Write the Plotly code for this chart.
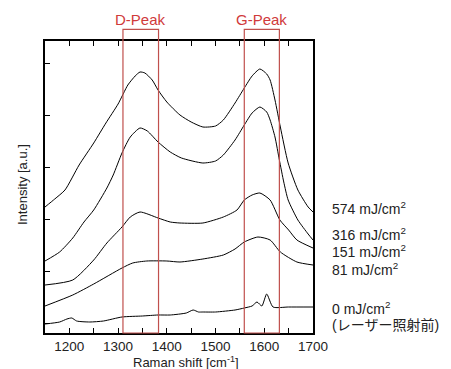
import plotly.graph_objects as go

# Raman shift positions (cm^-1) and intensities (arbitrary units)
x_574 = [1150, 1170, 1191, 1220, 1250, 1275, 1300, 1320, 1335, 1345, 1355, 1370, 1382, 1400, 1427, 1450, 1474, 1500, 1516, 1540, 1559, 1575, 1591, 1605, 1612, 1622, 1633, 1649, 1669, 1690, 1700]
y_574 = [126, 134, 143, 168, 190, 210, 229, 248, 257, 261, 260, 253, 243, 231, 218, 211, 206, 207, 213, 230, 245, 257, 264, 259, 253, 233, 206, 170, 143, 126, 121]

x_316 = [1150, 1180, 1207, 1230, 1250, 1277, 1290, 1308, 1325, 1345, 1360, 1382, 1407, 1430, 1474, 1500, 1516, 1540, 1559, 1575, 1591, 1605, 1612, 1622, 1631, 1640, 1649, 1669, 1690, 1700]
y_316 = [72, 81, 95, 111, 123, 145, 158, 180, 196, 205, 202, 191, 181, 175, 170, 172, 178, 193, 208, 220, 226, 221, 213, 196, 173, 151, 133, 113, 99, 93]

x_151 = [1150, 1207, 1250, 1277, 1308, 1325, 1345, 1382, 1407, 1427, 1474, 1516, 1544, 1559, 1575, 1591, 1612, 1632, 1650, 1667, 1700]
y_151 = [48, 53, 73, 90, 106, 116, 121, 115, 111, 110, 110, 116, 123, 133, 138, 140, 133, 113, 103, 93, 85]

x_81 = [1150, 1207, 1250, 1308, 1330, 1359, 1400, 1427, 1474, 1516, 1540, 1559, 1587, 1612, 1633, 1667, 1700]
y_81 = [27, 38, 49, 65, 70, 72, 72, 71, 74, 78, 84, 91, 96, 93, 81, 71, 68]

x_0 = [1150, 1180, 1195, 1205, 1215, 1242, 1270, 1308, 1350, 1382, 1407, 1440, 1454, 1465, 1474, 1500, 1540, 1559, 1575, 1585, 1595, 1605, 1618, 1650, 1700]
y_0 = [9, 11, 14, 15, 12, 11, 12, 16, 17, 18, 18, 20, 23, 21, 21, 21, 23, 25, 27, 31, 27, 39, 26, 26, 26]

series = [(x_574, y_574), (x_316, y_316), (x_151, y_151), (x_81, y_81), (x_0, y_0)]

label_texts = ["574 mJ/cm<sup>2</sup>", "316 mJ/cm<sup>2</sup>", "151 mJ/cm<sup>2</sup>",
               "81 mJ/cm<sup>2</sup>", "0 mJ/cm<sup>2</sup>", "(レーザー照射前)"]
label_y = [125, 99, 82, 64, 25, 8]

peak_names = ["D-Peak", "G-Peak"]
peak_x0 = [1310, 1559]
peak_x1 = [1383, 1631]

font_family = "Arial, Liberation Sans, Noto Sans CJK JP, sans-serif"
red = "#c0504d"

fig = go.Figure()
for xs, ys in series:
    fig.add_trace(go.Scatter(x=xs, y=ys, mode="lines",
                             line=dict(color="black", width=1, shape="spline", smoothing=0.6),
                             showlegend=False, hoverinfo="skip"))

for name, a, b in zip(peak_names, peak_x0, peak_x1):
    fig.add_shape(type="rect", xref="x", yref="paper", x0=a, x1=b, y0=0, y1=1.04,
                  line=dict(color=red, width=1.2), fillcolor="rgba(0,0,0,0)", layer="above")
    fig.add_annotation(x=(a + b) / 2, y=1.072, xref="x", yref="paper", text=name,
                       showarrow=False, font=dict(color="#d03a3a", size=15, family=font_family),
                       xanchor="center", yanchor="middle")

for t, yv in zip(label_texts, label_y):
    fig.add_annotation(x=1.063, y=yv, xref="paper", yref="y", text=t, showarrow=False,
                       xanchor="left", yanchor="middle",
                       font=dict(color="#222", size=14, family=font_family))

fig.add_annotation(x=0.526, y=-0.099, xref="paper", yref="paper",
                   text="Raman shift [cm<sup>-1</sup>]", showarrow=False,
                   xanchor="center", yanchor="middle",
                   font=dict(color="#222", size=13, family=font_family))
fig.add_annotation(x=-0.086, y=0.51, xref="paper", yref="paper",
                   text="Intensity [a.u.]", showarrow=False, textangle=-90,
                   xanchor="center", yanchor="middle",
                   font=dict(color="#222", size=13, family=font_family))

fig.update_xaxes(range=[1150, 1700], dtick=100, tick0=1200, ticks="inside", ticklen=5,
                 tickcolor="black", showline=True, linecolor="black", linewidth=1.5,
                 mirror="ticks", showgrid=False, zeroline=False,
                 minor=dict(dtick=50, tick0=1150, ticks="inside", ticklen=5, tickcolor="black", showgrid=False),
                 tickfont=dict(size=13.5, color="#222", family=font_family))
fig.update_yaxes(range=[0, 292], tick0=10, dtick=52, ticks="inside", ticklen=5,
                 tickcolor="black", showline=True, linecolor="black", linewidth=1.5,
                 mirror=True, showgrid=False, zeroline=False, showticklabels=False)

fig.update_layout(width=451, height=369, margin=dict(l=45, r=138, t=41, b=36),
                  paper_bgcolor="white", plot_bgcolor="white", showlegend=False)

fig.write_html("out.html")
